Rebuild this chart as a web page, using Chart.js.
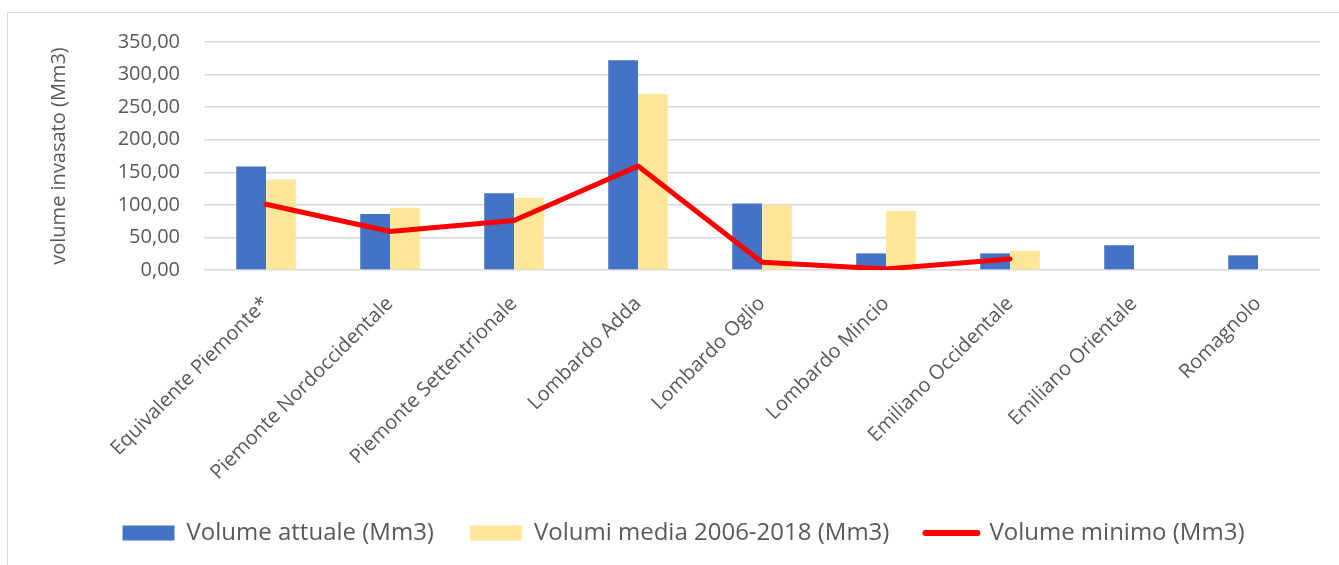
<!DOCTYPE html>
<html>
<head>
<meta charset="utf-8">
<script src="https://cdn.jsdelivr.net/npm/chart.js@4.4.0/dist/chart.umd.min.js"></script>
<style>
  html, body { margin: 0; padding: 0; background: #fff; overflow: hidden; }
  #box { position: absolute; left: 7px; top: 12px; width: 1331px; height: 552px; border: 1px solid #d9d9d9; }
  canvas { display: block; }
</style>
</head>
<body>
<div id="box"><canvas id="chart" width="1331" height="552"></canvas></div>
<script>
// categorie (bacini)
const categories = [
  "Equivalente Piemonte*",
  "Piemonte Nordoccidentale",
  "Piemonte Settentrionale",
  "Lombardo Adda",
  "Lombardo Oglio",
  "Lombardo Mincio",
  "Emiliano Occidentale",
  "Emiliano Orientale",
  "Romagnolo",
];

// valori in Mm3
const volumeAttuale = [159, 86, 118, 322, 102, 25.5, 25.5, 38, 22.5];
const volumiMedia = [139, 95.5, 111, 270, 99.5, 90.5, 29.5, null, null];
const volumeMinimo = [101, 59, 76, 159.5, 12, 1.5, 17, null, null];

// asse y
const yMin = 0;
const yMax = 350;
const yStep = 50;

const GREY = "#595959";
const FONT = "'Open Sans', sans-serif";

// le etichette ruotate dell'asse x escono dal box della scala: niente clip
const noLabelClip = {
  id: "noLabelClip",
  beforeDraw(chart) {
    chart.scales.x._computeLabelArea = () => undefined;
  },
};

const ctx = document.getElementById("chart").getContext("2d");

new Chart(ctx, {
  type: "bar",
  plugins: [noLabelClip],
  data: {
    labels: categories,
    datasets: [
      {
        label: "Volume attuale (Mm3)",
        data: volumeAttuale,
        backgroundColor: "#4472C4",
        order: 1,
      },
      {
        label: "Volumi media 2006-2018 (Mm3)",
        data: volumiMedia,
        backgroundColor: "#FFE699",
        order: 1,
      },
      {
        type: "line",
        label: "Volume minimo (Mm3)",
        data: volumeMinimo,
        borderColor: "#FF0000",
        backgroundColor: "#FF0000",
        borderWidth: 5,
        borderCapStyle: "round",
        borderJoinStyle: "round",
        pointRadius: 0,
        tension: 0,
        fill: false,
        order: 0,
      },
    ],
  },
  options: {
    responsive: false,
    animation: false,
    layout: {
      padding: { top: 29, right: 19, bottom: 10, left: 39 },
    },
    datasets: {
      bar: {
        categoryPercentage: 0.48,
        barPercentage: 1,
      },
    },
    plugins: {
      tooltip: { enabled: false },
      legend: {
        position: "bottom",
        labels: {
          color: GREY,
          font: { family: FONT, size: 24 },
          usePointStyle: true,
          pointStyleWidth: 52,
          boxHeight: 15,
          padding: 36,
          sort: (a, b) => a.datasetIndex - b.datasetIndex,
          generateLabels: (chart) => {
            const items = Chart.defaults.plugins.legend.labels.generateLabels(chart);
            items.forEach((it) => {
              const ds = chart.data.datasets[it.datasetIndex];
              if (ds.type === "line") {
                it.pointStyle = "line";
                it.strokeStyle = "#FF0000";
                it.lineWidth = 6;
                it.lineCap = "round";
              } else {
                it.pointStyle = "rect";
                it.lineWidth = 0;
              }
            });
            return items;
          },
        },
      },
    },
    scales: {
      x: {
        grid: { display: false },
        border: { display: false },
        ticks: {
          color: GREY,
          font: { family: FONT, size: 20 },
          minRotation: 45,
          maxRotation: 45,
          autoSkip: false,
          padding: 14,
        },
        afterFit: (scale) => {
          scale.height = 215;
        },
      },
      y: {
        min: yMin,
        max: yMax,
        grid: { color: "#D9D9D9", lineWidth: 1.5, drawTicks: false },
        border: { display: false },
        ticks: {
          stepSize: yStep,
          color: GREY,
          font: { family: FONT, size: 20 },
          padding: 24,
          callback: (v) => v.toFixed(2).replace(".", ","),
        },
        title: {
          display: true,
          text: "volume invasato (Mm3)",
          color: GREY,
          font: { family: FONT, size: 20 },
          padding: { top: 0, bottom: 0 },
        },
        afterFit: (scale) => {
          scale.width = 157;
          // il padding dei tick non deve spingere giù l'area del grafico
          scale.paddingTop = 0;
        },
      },
    },
  },
});
</script>
</body>
</html>
